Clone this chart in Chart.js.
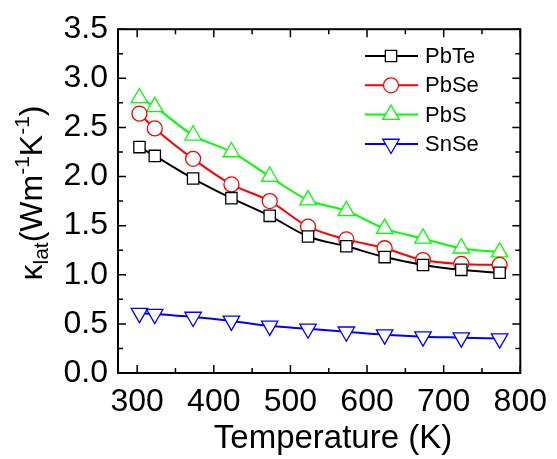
<!DOCTYPE html>
<html>
<head>
<meta charset="utf-8">
<script src="https://cdn.jsdelivr.net/npm/chart.js@4/dist/chart.umd.min.js"></script>
<style>
html,body{margin:0;padding:0;background:#fff;}
#wrap{width:557px;height:459px;}
</style>
</head>
<body>
<div id="wrap"><canvas id="c" width="557" height="459"></canvas></div>
<script>
const temperatures = [303, 323, 373, 423, 473, 523, 573, 623, 673, 723, 773];
const pbte = [2.30, 2.21, 1.98, 1.78, 1.60, 1.39, 1.29, 1.18, 1.10, 1.05, 1.02];
const pbse = [2.64, 2.49, 2.18, 1.92, 1.75, 1.49, 1.36, 1.27, 1.15, 1.11, 1.10];
const pbs  = [2.80, 2.71, 2.42, 2.25, 2.00, 1.76, 1.65, 1.47, 1.37, 1.27, 1.23];
const snse = [0.61, 0.60, 0.57, 0.53, 0.48, 0.45, 0.42, 0.39, 0.37, 0.36, 0.35];
const seriesNames = ['PbTe', 'PbSe', 'PbS', 'SnSe'];
const xTickLabels = [300, 400, 500, 600, 700, 800];
const yTickLabels = [0.0, 0.5, 1.0, 1.5, 2.0, 2.5, 3.0, 3.5];

const FONT = '"Liberation Sans", Arial, sans-serif';
const styles = [
  {color:'#000000', pointStyle:'rect', radius:8, rotation:0},
  {color:'#ff0000', pointStyle:'circle', radius:7.5, rotation:0},
  {color:'#00ff00', pointStyle:'triangle', radius:9.5, rotation:0},
  {color:'#0000ff', pointStyle:'triangle', radius:9.5, rotation:180}
];
const allSeries = [pbte, pbse, pbs, snse];

const datasets = allSeries.map((vals, i) => ({
  label: seriesNames[i],
  data: temperatures.map((t, j) => ({x: t, y: vals[j]})),
  borderColor: styles[i].color,
  backgroundColor: '#ffffff',
  borderWidth: 2,
  pointStyle: styles[i].pointStyle,
  pointRadius: styles[i].radius,
  pointRotation: styles[i].rotation,
  pointBorderWidth: 1.3,
  pointBorderColor: styles[i].color,
  pointBackgroundColor: '#ffffff',
  cubicInterpolationMode: 'monotone',
  fill: false
}));

const framePlugin = {
  id: 'frame',
  afterDatasetsDraw(chart) {
    const ctx = chart.ctx;
    const a = chart.chartArea;
    const xs = chart.scales.x, ys = chart.scales.y;
    ctx.save();
    ctx.strokeStyle = '#000';
    ctx.lineWidth = 2;
    ctx.strokeRect(a.left, a.top, a.right - a.left, a.bottom - a.top);
    ctx.lineWidth = 1.5;
    ctx.beginPath();
    for (let v = 300; v <= 800; v += 50) {
      const px = xs.getPixelForValue(v);
      const len = (v % 100 === 0) ? 8 : 5;
      ctx.moveTo(px, a.bottom); ctx.lineTo(px, a.bottom - len);
      ctx.moveTo(px, a.top); ctx.lineTo(px, a.top + len);
    }
    for (let k = 0; k <= 14; k++) {
      const v = k * 0.25;
      const py = ys.getPixelForValue(v);
      const len = (k % 2 === 0) ? 8 : 5;
      ctx.moveTo(a.left, py); ctx.lineTo(a.left + len, py);
      ctx.moveTo(a.right, py); ctx.lineTo(a.right - len, py);
    }
    ctx.stroke();

    // legend
    const lx0 = 365, lx1 = 418, mx = 391, tx = 425;
    const rows = [56, 85.3, 114.6, 144];
    ctx.font = '22px ' + FONT;
    ctx.textBaseline = 'middle';
    ctx.textAlign = 'left';
    seriesNames.forEach((name, i) => {
      const y = rows[i];
      ctx.strokeStyle = styles[i].color;
      ctx.lineWidth = 2;
      ctx.beginPath(); ctx.moveTo(lx0, y); ctx.lineTo(lx1, y); ctx.stroke();
      ctx.fillStyle = '#fff';
      ctx.lineWidth = 1.3;
      Chart.helpers.drawPoint(ctx, {pointStyle: styles[i].pointStyle, rotation: styles[i].rotation, radius: styles[i].radius, borderWidth: 1.3}, mx, y);
      ctx.fillStyle = '#000';
      ctx.fillText(name, tx, y + 1);
    });

    // x title
    ctx.fillStyle = '#000';
    ctx.font = '33px ' + FONT;
    ctx.textAlign = 'center';
    ctx.textBaseline = 'alphabetic';
    ctx.fillText('Temperature (K)', 333, 448);

    // y title (rotated) with sub/superscripts
    const main = 32, small = 21;
    const parts = [
      {t:'\u03BA', f:main, dy:0},
      {t:'lat', f:small, dy:6},
      {t:'(Wm', f:main, dy:0},
      {t:'-1', f:small, dy:-13},
      {t:'K', f:main, dy:0},
      {t:'-1', f:small, dy:-13},
      {t:')', f:main, dy:0}
    ];
    let total = 0;
    parts.forEach(p => { ctx.font = p.f + 'px ' + FONT; p.w = ctx.measureText(p.t).width; total += p.w; });
    ctx.save();
    ctx.translate(42, 193);
    ctx.rotate(-Math.PI / 2);
    ctx.textAlign = 'left';
    let cx = -total / 2;
    parts.forEach(p => {
      ctx.font = p.f + 'px ' + FONT;
      ctx.fillText(p.t, cx, p.dy);
      cx += p.w;
    });
    ctx.restore();
    ctx.restore();
  }
};

new Chart(document.getElementById('c'), {
  type: 'line',
  data: { datasets },
  plugins: [framePlugin],
  options: {
    responsive: false,
    animation: false,
    devicePixelRatio: 1,
    layout: { padding: { top: 20, right: 29, left: 0, bottom: 0 } },
    plugins: { legend: { display: false }, tooltip: { enabled: false } },
    scales: {
      x: {
        type: 'linear',
        min: 275, max: 800,
        afterFit(s) { s.height = 86; },
        afterBuildTicks(s) { s.ticks = xTickLabels.map(v => ({value: v})); },
        grid: { display: false, drawTicks: false },
        border: { display: false },
        ticks: { color: '#000', font: { size: 32, family: FONT }, padding: 10, maxRotation: 0, autoSkip: false,
          callback: v => String(v) }
      },
      y: {
        type: 'linear',
        min: 0, max: 3.5,
        afterFit(s) { s.width = 118; },
        afterBuildTicks(s) { s.ticks = yTickLabels.map(v => ({value: v})); },
        grid: { display: false, drawTicks: false },
        border: { display: false },
        ticks: { color: '#000', font: { size: 32, family: FONT }, padding: 10, autoSkip: false,
          callback: v => Number(v).toFixed(1) }
      }
    }
  }
});
</script>
</body>
</html>
